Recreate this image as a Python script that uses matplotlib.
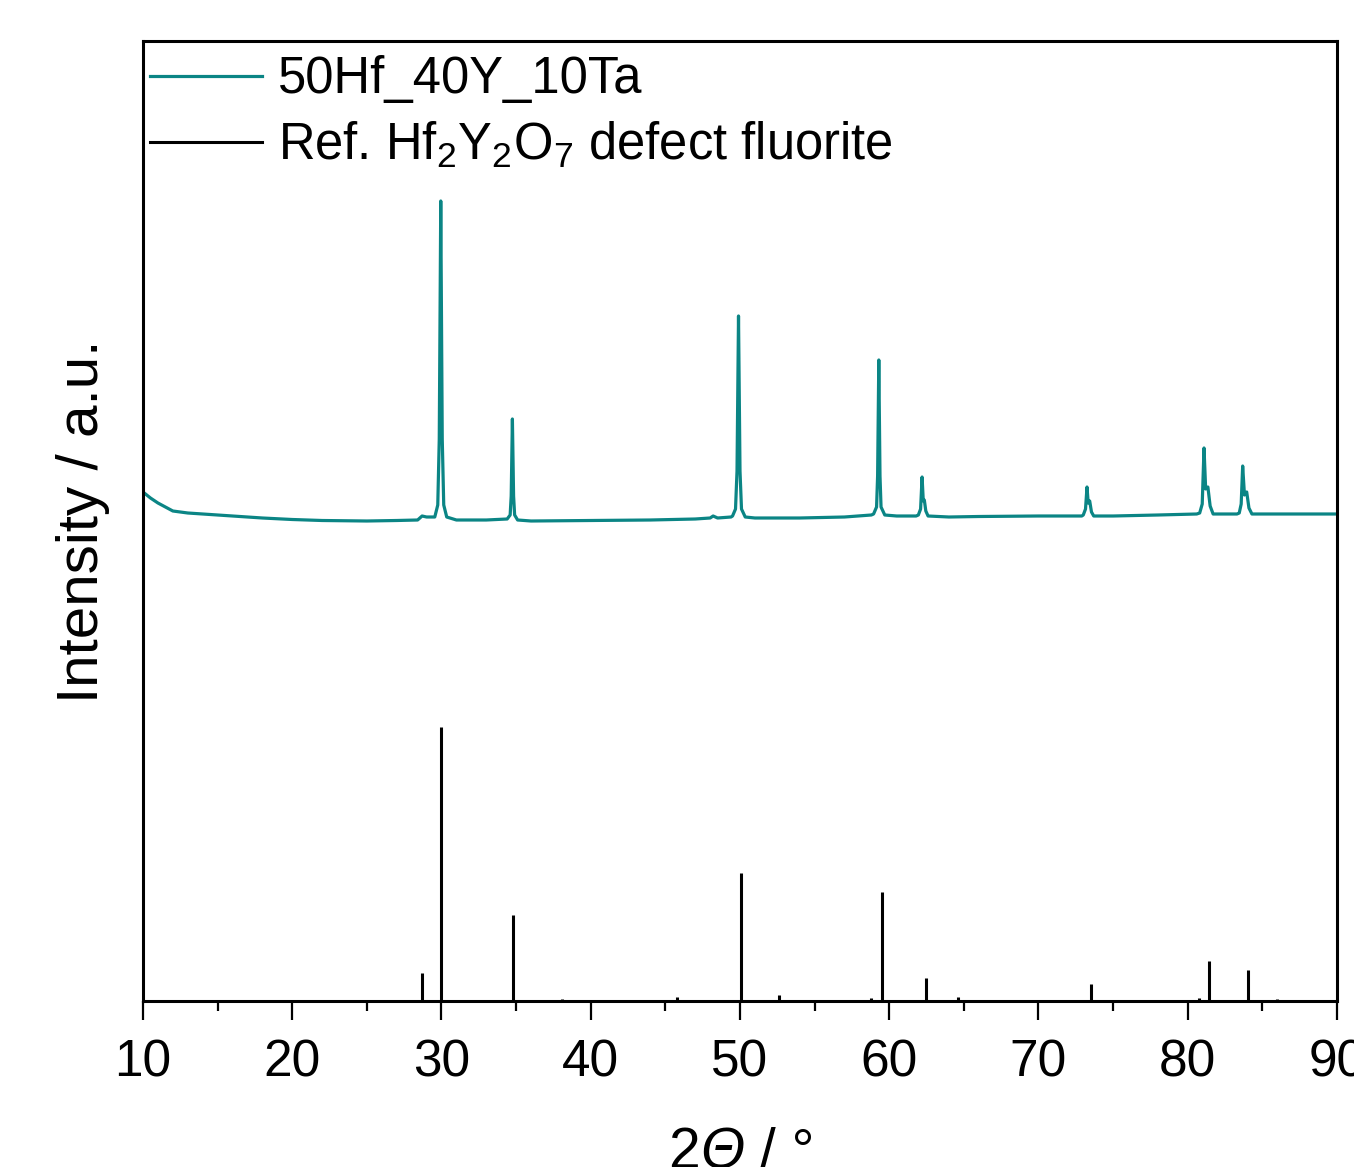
import matplotlib
matplotlib.use("Agg")
import matplotlib.pyplot as plt

plt.rcParams['font.family'] = ['Liberation Sans', 'DejaVu Sans']
plt.rcParams['mathtext.fontset'] = 'custom'
plt.rcParams['mathtext.rm'] = 'Liberation Sans'
plt.rcParams['mathtext.it'] = 'Liberation Sans:italic'

# measured pattern 50Hf_40Y_10Ta (traced points, arbitrary units)
xrd_two_theta = [10.0, 10.5, 11.0, 11.5, 12.0, 13.0, 14.0, 15.0, 16.0, 18.0,
                 20.0, 22.0, 25.0, 27.0, 28.4, 28.7, 29.0, 29.3,
                 29.55, 29.75, 29.85, 29.95, 30.05, 30.15, 30.35,
                 31.0, 33.0, 34.4, 34.6, 34.67, 34.75, 34.83, 34.9, 35.1,
                 36.0, 40.0, 44.0, 47.0, 48.0, 48.2, 48.5, 49.4,
                 49.5, 49.7, 49.8, 49.9, 50.0, 50.1, 50.35,
                 51.0, 54.0, 57.0, 58.8, 58.95, 59.15, 59.22, 59.3, 59.38, 59.45, 59.7,
                 60.5, 61.8, 61.95, 62.1, 62.2, 62.28, 62.35, 62.45, 62.6,
                 64.0, 66.0, 70.0, 72.9, 73.0, 73.15, 73.25, 73.33, 73.43, 73.55, 73.7,
                 75.0, 78.0, 80.6, 80.8, 80.97, 81.09, 81.2, 81.35, 81.5, 81.7,
                 82.5, 83.3, 83.45, 83.58, 83.68, 83.8, 83.95, 84.1, 84.3,
                 86.0, 88.0, 90.0]
xrd_counts = [509, 503, 498, 494, 490, 488, 487, 486, 485, 483,
              481.5, 480.5, 480, 480.5, 481, 485, 484, 484,
              484, 496, 562, 800, 562, 496, 484,
              481, 481, 482, 486, 505, 582, 505, 486, 481,
              480, 480.5, 481, 482, 483, 485, 483, 484,
              485, 492, 530, 685, 530, 492, 484,
              483, 483, 484, 486, 487, 494, 525, 641, 525, 494, 486,
              485, 485, 486, 492, 524, 500, 501, 490, 485,
              484, 484.5, 485, 485, 486, 492, 514, 498, 500, 489, 485,
              485, 486, 487, 488, 497, 553, 512, 514, 495, 487,
              487, 487, 488, 497, 535, 506, 509, 493, 487,
              487, 487, 487]

# reference Hf2Y2O7 defect fluorite stick pattern
ref_two_theta = [28.7, 30.0, 34.8, 38.05, 43.1, 45.8, 50.05, 52.6, 58.8, 59.5,
                 62.45, 64.6, 73.5, 80.75, 81.4, 84.05, 86.0]
ref_intensity = [28, 274, 86, 2, 1, 4, 128, 6, 3, 109,
                 23, 4, 17, 3, 40, 31, 2]

labels = ['50Hf_40Y_10Ta', r'Ref. Hf$_2$Y$_2$O$_7$ defect fluorite']
teal = '#0b8585'

fig = plt.figure(figsize=(13.54, 11.67), dpi=100)
ax = fig.add_axes([143 / 1354, 1 - 1001 / 1167, 1194 / 1354, 960 / 1167])

ax.plot(xrd_two_theta, xrd_counts, color=teal, lw=2.3, label=labels[0])
ax.vlines(ref_two_theta, 0, ref_intensity, color='black', lw=2.2)
ax.plot([], [], color='black', lw=2.2, label=labels[1])

ax.set_xlim(10, 90)
ax.set_ylim(0, 960)
ax.set_xticks(range(10, 91, 10))
ax.set_xticks(range(15, 90, 10), minor=True)
ax.tick_params(axis='x', which='major', direction='out', length=14, width=1.6,
               labelsize=37, pad=13)
ax.tick_params(axis='x', which='minor', direction='out', length=7, width=1.6)
ax.tick_params(axis='y', left=False, labelleft=False)
for s in ax.spines.values():
    s.set_linewidth(2.2)

# x label "2Θ / °" with italic Θ, built from three pieces
t1 = ax.text(0.4397, -0.1865, '2', fontsize=41, ha='left', va='bottom',
             transform=ax.transAxes)
t2 = ax.annotate('Θ', xy=(1, 0), xycoords=t1, fontsize=41, style='italic',
                 ha='left', va='bottom')
ax.annotate(' / °', xy=(1, 0), xycoords=t2, fontsize=41, ha='left', va='bottom')

ax.set_ylabel('Intensity / a.u.', fontsize=42, labelpad=24)

ax.legend(loc='upper left', bbox_to_anchor=(7 / 1194, 0.985), frameon=False,
          fontsize=36.5, handlelength=2.2, handletextpad=0.32,
          labelspacing=0.32, borderaxespad=0, borderpad=0)

fig.savefig('out.png', dpi=100)
